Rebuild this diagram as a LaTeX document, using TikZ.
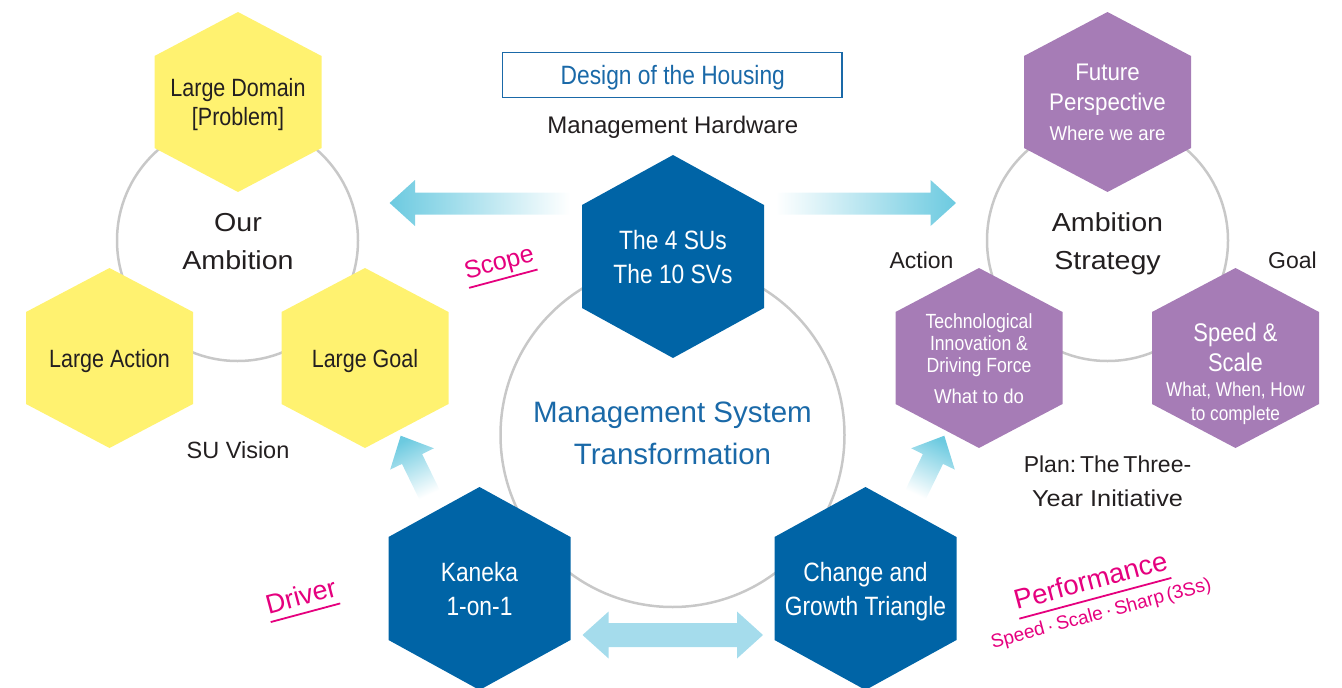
\documentclass[tikz,border=0pt]{standalone}
\usepackage{fontspec}
\setmainfont{Liberation Sans}
\newfontfamily\cf[FakeStretch=0.86]{Liberation Sans}
\newfontfamily\mf[FakeStretch=0.93]{Liberation Sans}
\newfontfamily\wf[FakeStretch=1.1]{Liberation Sans}
\usetikzlibrary{calc}
\definecolor{hexyellow}{HTML}{FFF270}
\definecolor{hexpurple}{HTML}{A67CB6}
\definecolor{hexblue}{HTML}{0064A6}
\definecolor{ringgray}{HTML}{C8C8C8}
\definecolor{txtdark}{HTML}{231F20}
\definecolor{txtblue}{HTML}{1A69A8}
\definecolor{pinkc}{HTML}{E5007E}
\definecolor{arrcyan}{HTML}{6CCAE0}
\definecolor{arrlight}{HTML}{A5DCEC}
\newcommand{\hexshape}[5]{%
  \fill[#5] ($(#1)+(0,-#3)$) -- ($(#1)+(#2,-#4)$) -- ($(#1)+(#2,#4)$) -- ($(#1)+(0,#3)$) -- ($(#1)+(-#2,#4)$) -- ($(#1)+(-#2,-#4)$) -- cycle;}
\newcommand{\fs}[1]{\fontsize{#1}{#1}\selectfont}
\tikzset{
  lbl/.style={inner sep=0pt, outer sep=0pt, anchor=base},
  dk/.style={lbl, text=txtdark},
  wt/.style={lbl, text=white},
  bl/.style={lbl, text=txtblue},
  pk/.style={lbl, text=pinkc},
  pkline/.style={draw=pinkc, line width=1.8pt},
  ring/.style={draw=ringgray, line width=2.5pt},
}
\begin{document}
\begin{tikzpicture}[x=1pt,y=-1pt]
\useasboundingbox (0,0) rectangle (1342,688);
% centres
\coordinate (cL) at (237.5,240.5);
\coordinate (cR) at (1107.5,240.5);
\coordinate (cM) at (672.5,435);
\coordinate (hLD) at (238,102);
\coordinate (hLA) at (109.5,358);
\coordinate (hLG) at (365,358);
\coordinate (hFP) at (1107.5,102);
\coordinate (hTI) at (979,358);
\coordinate (hSS) at (1235.5,358);
\coordinate (hSU) at (673,256.5);
\coordinate (hKA) at (479.5,588.5);
\coordinate (hCG) at (865.5,588.5);
% rings
\draw[ring] (cL) circle[radius=120.5pt];
\draw[ring] (cR) circle[radius=120.5pt];
\draw[ring] (cM) circle[radius=172pt];
% hexagons
\hexshape{hLD}{83.5}{90}{46}{hexyellow}
\hexshape{hLA}{83.5}{90}{46}{hexyellow}
\hexshape{hLG}{83.5}{90}{46}{hexyellow}
\hexshape{hFP}{83.5}{90}{46}{hexpurple}
\hexshape{hTI}{83.5}{90}{46}{hexpurple}
\hexshape{hSS}{83.5}{90}{46}{hexpurple}
\hexshape{hSU}{91}{101.5}{51.5}{hexblue}
\hexshape{hKA}{91}{101.5}{51.5}{hexblue}
\hexshape{hCG}{91}{101.5}{51.5}{hexblue}
% arrows
\shade[left color=arrcyan, right color=white] (389.6,203) -- (415,180) -- (415,192.5) -- (570,192.5) -- (570,214.5) -- (415,214.5) -- (415,226) -- cycle;
\shade[left color=white, right color=arrcyan] (956,203) -- (930.6,180) -- (930.6,192.5) -- (775.6,192.5) -- (775.6,214.5) -- (930.6,214.5) -- (930.6,226) -- cycle;
\shade[top color=arrcyan, bottom color=white, shading angle=26] (400.7,435.7) -- (433.9,448.3) -- (422.1,454.1) -- (440.1,490.8) -- (419.9,500.6) -- (402,463.9) -- (390.2,469.6) -- cycle;
\shade[top color=arrcyan, bottom color=white, shading angle=-26] (944.3,435.7) -- (911.1,448.3) -- (922.9,454.1) -- (904.9,490.8) -- (925.1,500.6) -- (943,463.9) -- (954.8,469.6) -- cycle;
\fill[arrlight] (582.5,635) -- (608.6,611.5) -- (608.6,623) -- (737,623) -- (737,611.5) -- (763,635) -- (737,658.5) -- (737,647) -- (608.6,647) -- (608.6,658.5) -- cycle;
% left cluster text
\node[dk, font=\cf\fs{25}] (tLD1) at (238,96) {Large Domain};
\node[dk, font=\cf\fs{25}] (tLD2) at (238,125) {[Problem]};
\node[dk, font=\wf\fs{26}] (tOA1) at (238,231.5) {Our};
\node[dk, font=\wf\fs{26}] (tOA2) at (238,269) {Ambition};
\node[dk, font=\cf\fs{25}] (tLA) at (109.5,367) {Large Action};
\node[dk, font=\cf\fs{25}] (tLG) at (365,367) {Large Goal};
\node[dk, font=\fs{23.5}] (tSV) at (238,458) {SU Vision};
% top centre
\node[draw=txtblue, line width=1.2pt, minimum width=339.5pt, minimum height=44.6pt, inner sep=0pt] (box) at (672.3,75) {};
\node[bl, font=\cf\fs{26.5}] (tDH) at (672.8,84) {Design of the Housing};
\node[dk, font=\fs{24}] (tMH) at (672.8,133) {Management Hardware};
\node[wt, font=\cf\fs{26.5}] (tSU1) at (673,249) {The 4 SUs};
\node[wt, font=\cf\fs{26.5}] (tSU2) at (673,283) {The 10 SVs};
% centre circle
\node[bl, font=\fs{29.5}] (tMS1) at (672.5,422.7) {Management System};
\node[bl, font=\fs{29.5}] (tMS2) at (672.5,464) {Transformation};
% bottom hexes
\node[wt, font=\cf\fs{26.5}] (tKA1) at (479.5,581.7) {Kaneka};
\node[wt, font=\cf\fs{26.5}] (tKA2) at (479.5,615.7) {1-on-1};
\node[wt, font=\cf\fs{26.5}] (tCG1) at (865.5,581.7) {Change and};
\node[wt, font=\cf\fs{26.5}] (tCG2) at (865.5,615.7) {Growth Triangle};
% right cluster text
\node[wt, font=\mf\fs{24}] (tFP1) at (1107.5,80) {Future};
\node[wt, font=\mf\fs{24}] (tFP2) at (1107.5,110) {Perspective};
\node[wt, font=\mf\fs{20}] (tFP3) at (1107.5,140) {Where we are};
\node[dk, font=\wf\fs{26}] (tAS1) at (1107.5,231.5) {Ambition};
\node[dk, font=\wf\fs{26}] (tAS2) at (1107.5,269) {Strategy};
\node[dk, font=\fs{23}] (tAC) at (921.5,268) {Action};
\node[dk, font=\fs{23}] (tGO) at (1292.5,268) {Goal};
\node[wt, font=\cf\fs{20.5}] (tTI1) at (979,328.3) {Technological};
\node[wt, font=\cf\fs{20.5}] (tTI2) at (979,350.7) {Innovation \&};
\node[wt, font=\cf\fs{20.5}] (tTI3) at (979,372.7) {Driving Force};
\node[wt, font=\mf\fs{20}] (tTI4) at (979,403.3) {What to do};
\node[wt, font=\cf\fs{25.5}] (tSS1) at (1235.5,341.7) {Speed \&};
\node[wt, font=\cf\fs{25.5}] (tSS2) at (1235.5,371.7) {Scale};
\node[wt, font=\cf\fs{20}] (tSS3) at (1235.5,396) {What, When, How};
\node[wt, font=\cf\fs{20}] (tSS4) at (1235.5,420) {to complete};
\node[dk, font=\fs{23}] (tPL1) at (1107.5,472.7) {Plan:\,The\,Three-};
\node[dk, font=\wf\fs{23}] (tPL2) at (1107.5,506) {Year Initiative};
% pink labels
\node[pk, font=\fs{25}, rotate=15] (tSC) at (501,270) {Scope};
\draw[pkline] ($(tSC.base west)!9pt!-90:(tSC.base east)$) -- ($(tSC.base east)!9pt!90:(tSC.base west)$);
\node[pk, font=\fs{27}, rotate=15] (tDR) at (303.4,605) {Driver};
\draw[pkline] ($(tDR.base west)!8pt!-90:(tDR.base east)$) -- ($(tDR.base east)!8pt!90:(tDR.base west)$);
\node[pk, font=\fs{27.5}, rotate=15] (tPF) at (1093,589.6) {Performance};
\draw[pkline] ($(tPF.base west)!9pt!-90:(tPF.base east)$) -- ($(tPF.base east)!9pt!90:(tPF.base west)$);
\node[pk, font=\fs{19}, rotate=15] (tSP) at (1102.5,619) {Speed\,·\,Scale\,·\,Sharp\,(3Ss)};
\end{tikzpicture}
\end{document}
